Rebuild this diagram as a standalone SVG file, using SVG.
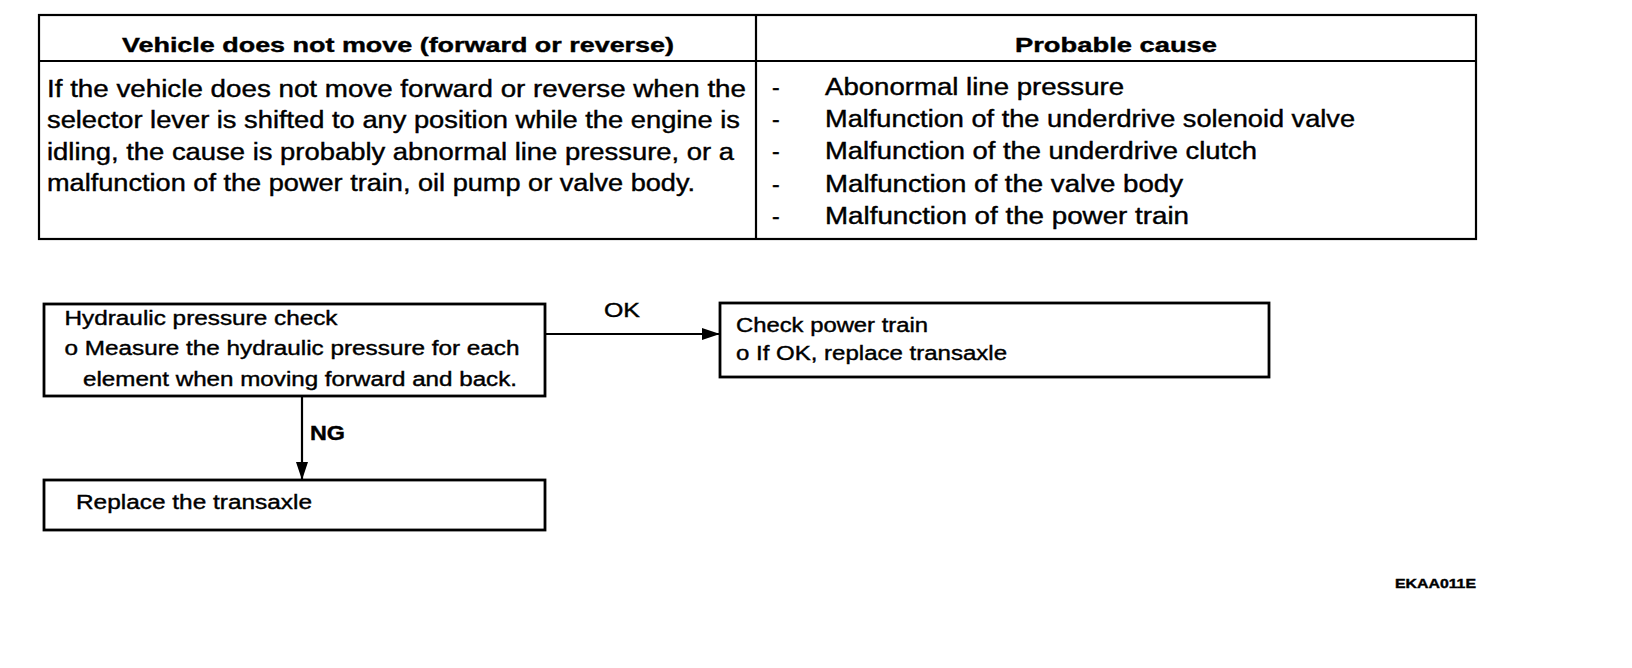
<svg xmlns="http://www.w3.org/2000/svg" width="1632" height="668" viewBox="0 0 1632 668">
<style>
.ln{fill:none;stroke:#000;stroke-width:2.2}
.bx{fill:none;stroke:#000;stroke-width:2.8}
.t{font-family:"Liberation Sans",Arial,sans-serif;fill:#000;stroke:#000;stroke-width:0.4}
.b{font-weight:bold}
</style>
<defs>
<marker id="ah" viewBox="0 0 18 12" refX="18" refY="6" markerWidth="18" markerHeight="12" markerUnits="userSpaceOnUse" orient="auto">
<path d="M0,0 L18,6 L0,12 Z" fill="#000"/>
</marker>
</defs>
<rect width="1632" height="668" fill="#fff"/>
<g id="table">
<rect class="ln" x="39" y="15" width="1437" height="224"/>
<line class="ln" x1="39" y1="61" x2="1476" y2="61"/>
<line class="ln" x1="756" y1="15" x2="756" y2="239"/>
<text class="t b" x="122" y="52" font-size="21" textLength="552" lengthAdjust="spacingAndGlyphs">Vehicle does not move (forward or reverse)</text>
<text class="t b" x="1015" y="52" font-size="21" textLength="202" lengthAdjust="spacingAndGlyphs">Probable cause</text>
<g class="t" font-size="23">
<text x="47" y="96.5" textLength="699" lengthAdjust="spacingAndGlyphs">If the vehicle does not move forward or reverse when the</text>
<text x="47" y="128" textLength="693" lengthAdjust="spacingAndGlyphs">selector lever is shifted to any position while the engine is</text>
<text x="47" y="159.5" textLength="687" lengthAdjust="spacingAndGlyphs">idling, the cause is probably abnormal line pressure, or a</text>
<text x="47" y="190.5" textLength="648" lengthAdjust="spacingAndGlyphs">malfunction of the power train, oil pump or valve body.</text>
<text x="772" y="95">-</text>
<text x="772" y="126.5">-</text>
<text x="772" y="159">-</text>
<text x="772" y="191.5">-</text>
<text x="772" y="224">-</text>
<text x="825" y="95" textLength="299" lengthAdjust="spacingAndGlyphs">Abonormal line pressure</text>
<text x="825" y="126.5" textLength="530" lengthAdjust="spacingAndGlyphs">Malfunction of the underdrive solenoid valve</text>
<text x="825" y="159" textLength="432" lengthAdjust="spacingAndGlyphs">Malfunction of the underdrive clutch</text>
<text x="825" y="191.5" textLength="358" lengthAdjust="spacingAndGlyphs">Malfunction of the valve body</text>
<text x="825" y="224" textLength="364" lengthAdjust="spacingAndGlyphs">Malfunction of the power train</text>
</g>
</g>
<g id="connectors">
<line class="ln" x1="545" y1="334" x2="720" y2="334" marker-end="url(#ah)"/>
<line class="ln" x1="302" y1="396" x2="302" y2="480" marker-end="url(#ah)"/>
<text class="t" x="604" y="317" font-size="20" textLength="36" lengthAdjust="spacingAndGlyphs">OK</text>
<text class="t b" x="310" y="440" font-size="20" textLength="35" lengthAdjust="spacingAndGlyphs">NG</text>
</g>
<g id="node-hydraulic">
<rect class="bx" x="44" y="304" width="501" height="92"/>
<g class="t" font-size="20">
<text x="64.5" y="324.5" textLength="273" lengthAdjust="spacingAndGlyphs">Hydraulic pressure check</text>
<text x="64.5" y="355" textLength="455" lengthAdjust="spacingAndGlyphs">o Measure the hydraulic pressure for each</text>
<text x="83" y="385.5" textLength="434" lengthAdjust="spacingAndGlyphs">element when moving forward and back.</text>
</g>
</g>
<g id="node-powertrain">
<rect class="bx" x="720" y="303" width="549" height="74"/>
<g class="t" font-size="20">
<text x="736" y="331.5" textLength="192" lengthAdjust="spacingAndGlyphs">Check power train</text>
<text x="736" y="359.5" textLength="271" lengthAdjust="spacingAndGlyphs">o If OK, replace transaxle</text>
</g>
</g>
<g id="node-replace">
<rect class="bx" x="44" y="480" width="501" height="50"/>
<text class="t" x="76" y="509" font-size="20" textLength="236" lengthAdjust="spacingAndGlyphs">Replace the transaxle</text>
</g>
<text class="t b" x="1395" y="588" font-size="13" textLength="81" lengthAdjust="spacingAndGlyphs">EKAA011E</text>
</svg>
